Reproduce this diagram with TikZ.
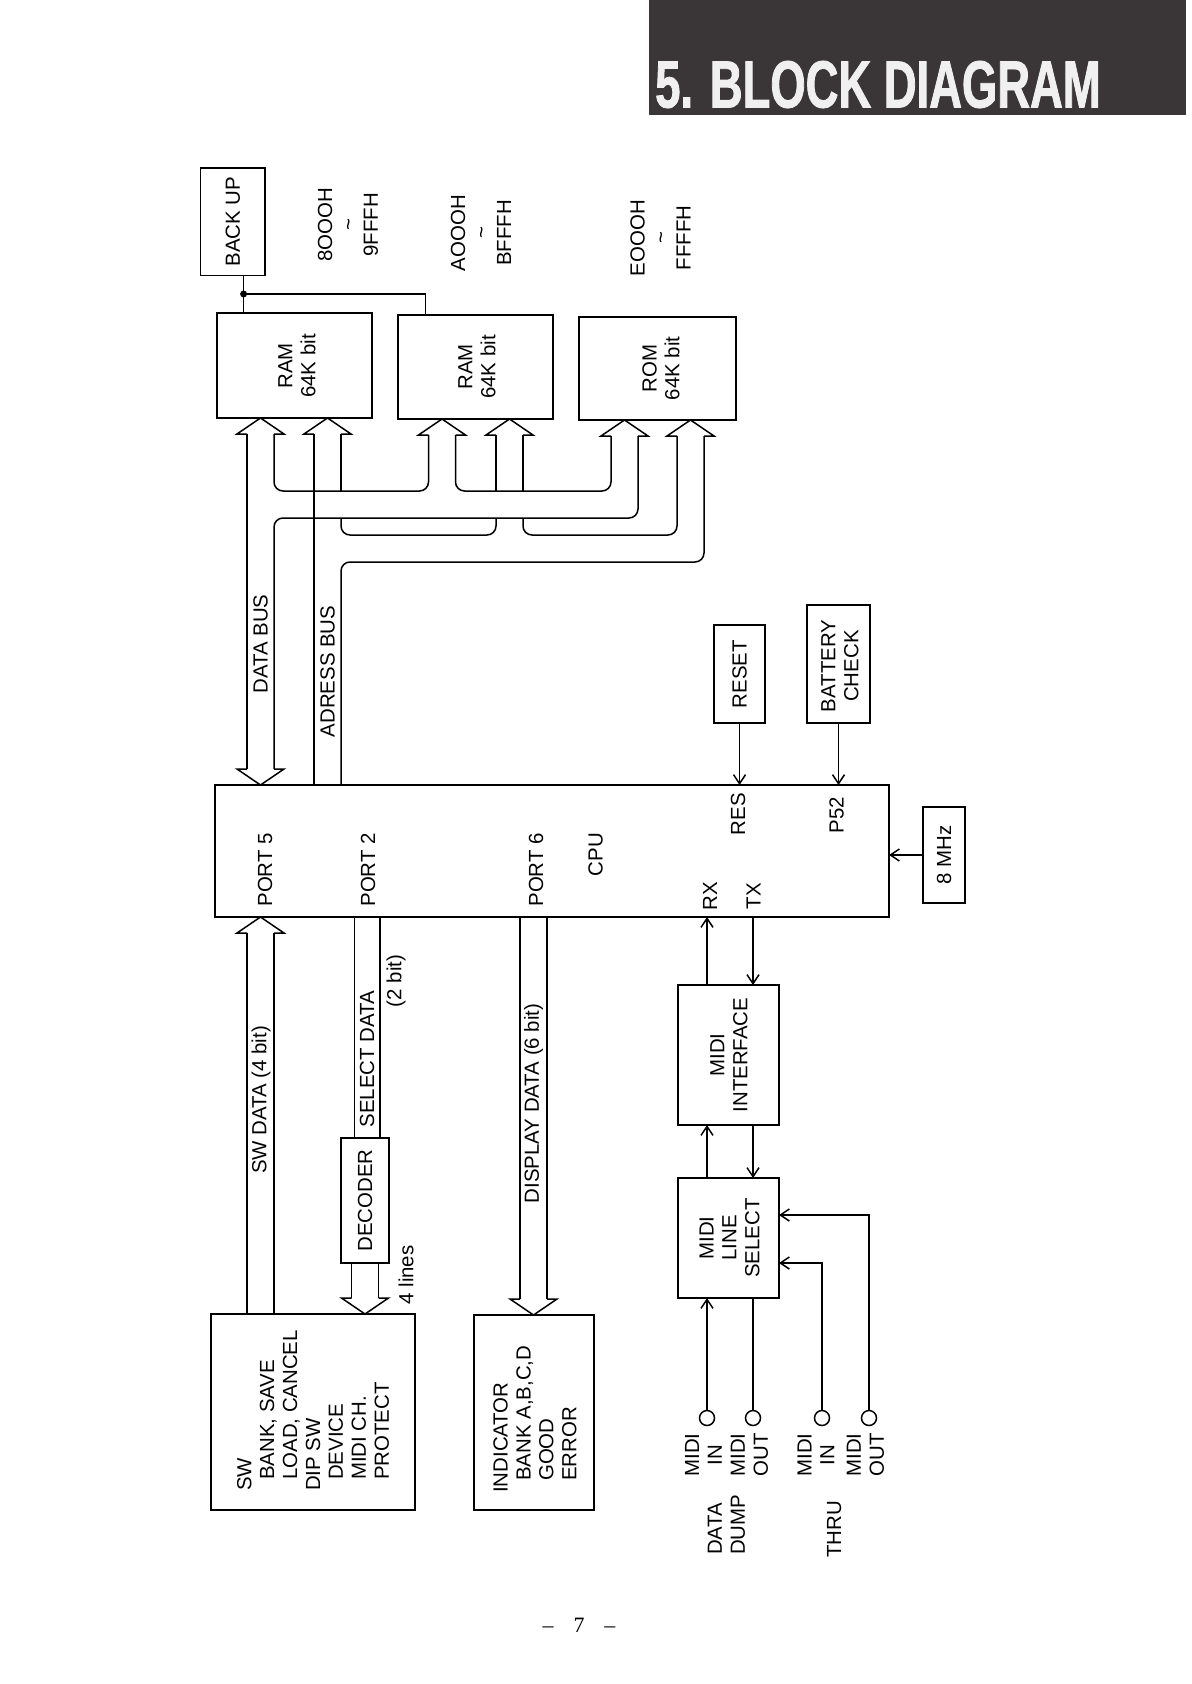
\documentclass[tikz,border=0pt]{standalone}
\usepackage{fontspec}
\setmainfont{Liberation Sans}
\newfontfamily\headfont[FakeStretch=0.68,BoldFeatures={FakeBold=1.2}]{Liberation Sans}
\newfontfamily\pagefont{Liberation Serif}
\usetikzlibrary{arrows.meta}
\definecolor{hdr}{RGB}{58,53,55}
\newcommand\hollowtip[3]{% centre x, tip y, sign (1 = points up, -1 = points down)
  \draw[bus] ({#1-13.5},{#2+16*(#3)}) -- ({#1-23.5},{#2+16*(#3)}) -- (#1,#2)
     -- ({#1+23.5},{#2+16*(#3)}) -- ({#1+13.5},{#2+16*(#3)});}
\begin{document}
\begin{tikzpicture}[x=1bp,y=-1bp,
  font=\fontsize{20.5}{23}\selectfont,
  box/.style={draw, line width=1.8bp, inner sep=0pt, outer sep=0pt},
  txt/.style={rotate=90, align=center, inner sep=0pt},
  bus/.style={line width=1.5bp, line join=miter},
  rbus/.style={bus, rounded corners=9bp},
  wire/.style={line width=1.5bp},
  arr/.style={line width=1.5bp, -{Straight Barb[length=9bp,width=12bp]}},
  jack/.style={draw, circle, line width=1.5bp, minimum size=15bp, inner sep=0pt, outer sep=0pt},
  dot/.style={circle, fill, inner sep=0pt, minimum size=7bp}]
\useasboundingbox (0,0) rectangle (1191,1684);
\fill[white] (0,0) rectangle (1191,1684);

% ---------- header ----------
\fill[hdr] (649,0) rectangle (1186,115);
\node[font=\headfont\bfseries\fontsize{67}{70}\selectfont, text=white!94!black,
      anchor=base west, inner sep=0pt] (title) at (655,107.5) {5. BLOCK DIAGRAM};

% ---------- boxes ----------
\node[box, minimum width=64.5bp, minimum height=107.5bp] (backup) at (232.75,221.75) {};
\node[txt] (backuptxt) at (backup) {BACK UP};
\node[box, minimum width=155bp, minimum height=105bp] (ram1) at (294.5,365.5) {};
\node[txt] (ram1txt) at (297,366) {RAM\\64K bit};
\node[box, minimum width=155bp, minimum height=104bp] (ram2) at (475.5,367) {};
\node[txt] (ram2txt) at (477,367) {RAM\\64K bit};
\node[box, minimum width=157bp, minimum height=103bp] (rom) at (657.5,368.5) {};
\node[txt] (romtxt) at (661,368.5) {ROM\\64K bit};

\node[box, minimum width=51bp, minimum height=98bp] (reset) at (739.5,674) {};
\node[txt] (resettxt) at (reset) {RESET};
\node[box, minimum width=63bp, minimum height=118bp] (batt) at (838.5,664) {};
\node[txt] (batttxt) at (840,666) {BATTERY\\CHECK};

\node[box, minimum width=674bp, minimum height=132bp] (cpu) at (552,851) {};
\node[box, minimum width=42bp, minimum height=96bp] (mhz) at (944,855) {};
\node[txt] (mhztxt) at (mhz) {8 MHz};

\node[box, minimum width=48bp, minimum height=125bp] (dec) at (365,1200.5) {};
\node[txt] (dectxt) at (dec) {DECODER};
\node[box, minimum width=204bp, minimum height=196bp] (sw) at (313,1412) {};
\node[box, minimum width=120bp, minimum height=195bp] (ind) at (534,1412.5) {};
\node[box, minimum width=101bp, minimum height=140bp] (mif) at (728.5,1055) {};
\node[txt] (miftxt) at (729,1055) {MIDI\\INTERFACE};
\node[box, minimum width=101bp, minimum height=120bp] (mls) at (728.5,1238) {};
\node[txt] (mlstxt) at (729.5,1238) {MIDI\\LINE\\SELECT};

% ---------- address ranges ----------
\node[txt] (adr1) at (348,225) {8OOOH\\\textasciitilde\\9FFFH};
\node[txt] (adr2) at (481,233) {AOOOH\\\textasciitilde\\BFFFH};
\node[txt] (adr3) at (660.5,238) {EOOOH\\\textasciitilde\\FFFFH};

% ---------- back-up supply ----------
\node[dot] (jn) at (243.6,294) {};
\coordinate (gB) at (425.7,0);
\draw[wire] (jn |- backup.south) -- (jn |- ram1.north);
\draw[wire] (jn.center) -| (gB |- ram2.north);

% ---------- memory buses ----------
\hollowtip{260.5}{418}{1}
\hollowtip{327.5}{418}{1}
\hollowtip{442}{419}{1}
\hollowtip{509.5}{419}{1}
\hollowtip{624.5}{420}{1}
\hollowtip{690.5}{420}{1}
\hollowtip{260.5}{785}{-1}
% data bus
\draw[bus] (247,434) -- (247,769);
\draw[rbus] (274,769) -- (274,518) -- (638,518) -- (638,436);
\draw[rbus] (274,434) -- (274,491) -- (428.5,491) -- (428.5,435);
\draw[rbus] (455.5,435) -- (455.5,491) -- (611,491) -- (611,436);
% address bus
\draw[bus] (314,434) -- (314,785);
\draw[rbus] (341,785) -- (341,562) -- (704,562) -- (704,436);
\draw[bus] (341,434) -- (341,491);
\draw[rbus] (341,518) -- (341,535) -- (496,535) -- (496,518);
\draw[bus] (496,491) -- (496,435);
\draw[bus] (523,435) -- (523,491);
\draw[rbus] (523,518) -- (523,535) -- (677,535) -- (677,436);
\node[txt] (dbus) at (260.5,644) {DATA BUS};
\node[txt] (abus) at (327.5,671.5) {ADRESS BUS};

% ---------- CPU labels ----------
\node[txt, anchor=east] (p5) at (265,833) {PORT 5};
\node[txt, anchor=east] (p2) at (368,833) {PORT 2};
\node[txt, anchor=east] (p6) at (536,833) {PORT 6};
\node[txt, anchor=east] (cputxt) at (595.5,833) {CPU};
\node[txt] (res) at (738,814) {RES};
\node[txt] (p52) at (836.7,815) {P52};
\node[txt] (rx) at (710,896) {RX};
\node[txt] (tx) at (753.5,896) {TX};

% ---------- control inputs ----------
\draw[arr] (reset.south) -- (reset.south |- cpu.north);
\draw[arr] (batt.south) -- (batt.south |- cpu.north);
\draw[arr] (mhz.west) -- (mhz.west -| cpu.east);

% ---------- switch / decoder / indicator buses ----------
\coordinate (gD1) at (247,0);
\coordinate (gD2) at (274,0);
\hollowtip{260.5}{917}{1}
\draw[bus] (247,933) -- (gD1 |- sw.north);
\draw[bus] (274,933) -- (gD2 |- sw.north);
\node[txt] (swdata) at (261,1100) {SW DATA (4 bit)};

\coordinate (gS1) at (354.5,0);
\coordinate (gS2) at (380,0);
\draw[wire] (gS1 |- cpu.south) -- (gS1 |- dec.north);
\draw[wire] (gS2 |- cpu.south) -- (gS2 |- dec.north);
\node[txt] (seldata) at (367,1059) {SELECT DATA};
\node[txt] (twobit) at (396,981) {(2 bit)};

\draw[bus] (351.5,1263) -- (351.5,1298);
\draw[bus] (378.5,1263) -- (378.5,1298);
\hollowtip{365}{1314}{-1}
\node[txt] (fourlines) at (406,1275) {4 lines};

\draw[bus] (520,917) -- (520,1299);
\draw[bus] (547,917) -- (547,1299);
\hollowtip{533.5}{1315}{-1}
\node[txt] (dispdata) at (533.5,1103.5) {DISPLAY DATA (6 bit)};

\node[txt, anchor=west, align=left] (swtxt) at (313,1491)
  {SW\\\hspace*{11bp}BANK, SAVE\\\hspace*{11bp}LOAD, CANCEL\\DIP SW\\\hspace*{11bp}DEVICE\\\hspace*{11bp}MIDI CH.\\\hspace*{11bp}PROTECT};
\node[txt, anchor=west, align=left] (indtxt) at (535,1493)
  {INDICATOR\\\hspace*{12bp}BANK A,B,C,D\\\hspace*{12bp}GOOD\\\hspace*{12bp}ERROR};

% ---------- MIDI ----------
\coordinate (gRX) at (707,0);
\coordinate (gTX) at (753,0);
\draw[arr] (gRX |- mif.north) -- (gRX |- cpu.south);
\draw[arr] (gTX |- cpu.south) -- (gTX |- mif.north);
\draw[arr] (gRX |- mls.north) -- (gRX |- mif.south);
\draw[arr] (gTX |- mif.south) -- (gTX |- mls.north);

\node[jack] (j1) at (707,1418) {};
\node[jack] (j2) at (753,1418) {};
\node[jack] (j3) at (822,1418) {};
\node[jack] (j4) at (869,1418) {};
\draw[arr] (j1.north) -- (j1.north |- mls.south);
\draw[wire] (j2.north |- mls.south) -- (j2.north);
\coordinate (gY1) at (0,1215);
\coordinate (gY2) at (0,1263);
\draw[arr] (j4.north) |- (mls.east |- gY1);
\draw[arr] (j3.north) |- (mls.east |- gY2);

\node[txt] (l1) at (703.5,1455) {MIDI\\IN};
\node[txt] (l2) at (749.5,1455) {MIDI\\OUT};
\node[txt] (l3) at (816,1455) {MIDI\\IN};
\node[txt] (l4) at (865.5,1455) {MIDI\\OUT};
\node[txt, anchor=west, align=left] (ddump) at (726.5,1555) {DATA\\DUMP};
\node[txt, anchor=west] (thru) at (834.3,1558) {THRU};

% ---------- page number ----------
\node[font=\pagefont\fontsize{22}{24}\selectfont, inner sep=0pt] (pg) at (579,1625)
  {\textendash\hspace{20bp}7\hspace{20bp}\textendash};
\end{tikzpicture}
\end{document}
